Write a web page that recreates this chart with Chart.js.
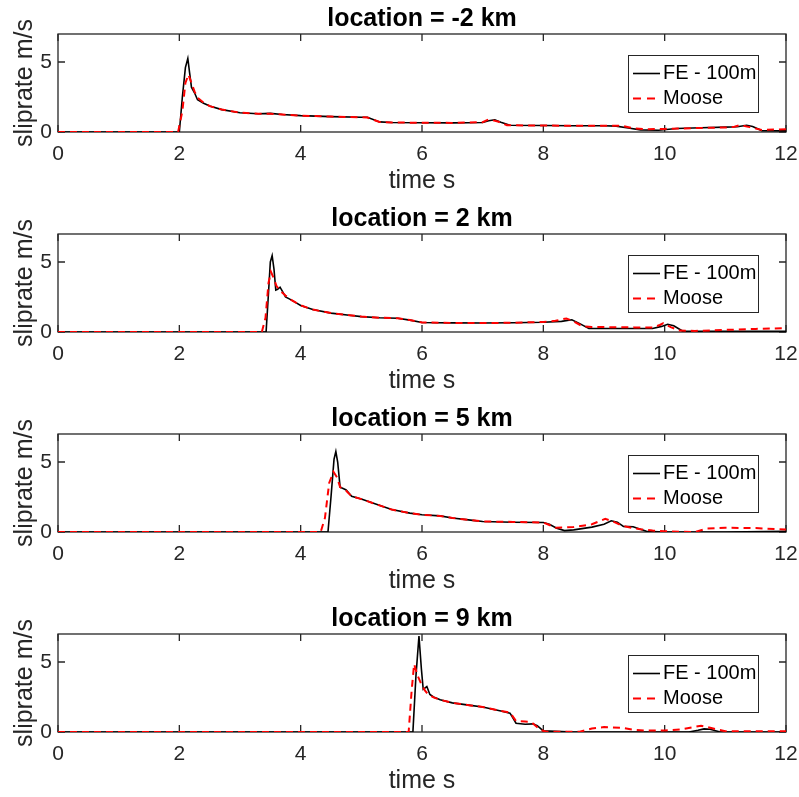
<!DOCTYPE html>
<html>
<head>
<meta charset="utf-8">
<script src="https://cdn.jsdelivr.net/npm/chart.js@4/dist/chart.umd.min.js"></script>
<style>
  html, body { margin: 0; padding: 0; background: #ffffff; }
  .panel { position: absolute; left: 0; width: 799px; height: 200px; }
  canvas { display: block; }
</style>
</head>
<body>
<div class="panel" style="top:0px"><canvas id="c0" width="799" height="200"></canvas></div>
<div class="panel" style="top:200px"><canvas id="c1" width="799" height="200"></canvas></div>
<div class="panel" style="top:400px"><canvas id="c2" width="799" height="200"></canvas></div>
<div class="panel" style="top:600px"><canvas id="c3" width="799" height="200"></canvas></div>
<script>
// ---------------- DATA ----------------
const panelTitles = ["location = -2 km", "location = 2 km", "location = 5 km", "location = 9 km"];
const seriesNames = ["FE - 100m", "Moose"];
const xTickValues = [0, 2, 4, 6, 8, 10, 12];
const yTickValues = [0, 5];
const xAxisTitle = "time s";
const yAxisTitle = "sliprate m/s";

// location = -2 km
const feM2Time  = [0, 2.0, 2.05, 2.1, 2.14, 2.17, 2.2, 2.25, 2.3, 2.4, 2.5, 2.7, 3.0, 3.3, 3.5, 3.7, 4.0, 4.5, 5.0, 5.1, 5.3, 5.5, 6.0, 6.5, 7.0, 7.1, 7.2, 7.3, 7.45, 8.0, 8.5, 9.0, 9.2, 9.4, 9.6, 9.9, 10.2, 10.6, 11.0, 11.2, 11.35, 11.45, 11.6, 12];
const feM2Rate  = [0, 0, 2.5, 4.6, 5.25, 4.2, 3.2, 2.8, 2.3, 2.05, 1.85, 1.6, 1.38, 1.3, 1.33, 1.25, 1.17, 1.1, 1.05, 1.05, 0.72, 0.68, 0.66, 0.65, 0.68, 0.8, 0.87, 0.7, 0.48, 0.46, 0.45, 0.45, 0.42, 0.28, 0.15, 0.12, 0.25, 0.3, 0.35, 0.38, 0.48, 0.4, 0.1, 0.08];
const mooseM2Time = [0, 1.98, 2.05, 2.1, 2.15, 2.2, 2.25, 2.3, 2.4, 2.5, 2.7, 3.0, 3.3, 3.5, 3.7, 4.0, 4.5, 5.0, 5.1, 5.3, 5.5, 6.0, 6.5, 7.0, 7.1, 7.25, 7.4, 8.0, 8.5, 9.0, 9.3, 9.5, 9.7, 10.0, 10.5, 11.0, 11.15, 11.25, 11.4, 11.6, 12];
const mooseM2Rate = [0, 0, 1.5, 3.5, 4.1, 3.5, 2.9, 2.45, 2.1, 1.85, 1.6, 1.38, 1.3, 1.3, 1.25, 1.17, 1.1, 1.05, 1.03, 0.72, 0.68, 0.66, 0.65, 0.7, 0.9, 0.75, 0.48, 0.46, 0.45, 0.45, 0.44, 0.25, 0.2, 0.22, 0.28, 0.32, 0.38, 0.5, 0.35, 0.15, 0.2];

// location = 2 km
const fe2Time  = [0, 3.43, 3.47, 3.5, 3.53, 3.56, 3.59, 3.62, 3.66, 3.7, 3.75, 3.82, 3.9, 4.0, 4.2, 4.5, 4.8, 5.0, 5.3, 5.6, 5.8, 6.0, 6.5, 7.0, 7.5, 8.0, 8.3, 8.47, 8.6, 8.75, 9.0, 9.5, 9.8, 9.95, 10.05, 10.15, 10.3, 11.0, 12];
const fe2Rate  = [0, 0, 2.8, 5.0, 5.45, 4.5, 3.0, 3.05, 3.2, 2.9, 2.5, 2.35, 2.15, 1.9, 1.6, 1.35, 1.2, 1.1, 1.02, 0.98, 0.85, 0.68, 0.65, 0.64, 0.66, 0.7, 0.76, 0.87, 0.6, 0.25, 0.25, 0.25, 0.25, 0.4, 0.55, 0.45, 0.05, 0.05, 0.05];
const moose2Time = [0, 3.36, 3.42, 3.47, 3.51, 3.56, 3.6, 3.65, 3.75, 3.82, 3.9, 4.0, 4.2, 4.5, 4.8, 5.0, 5.3, 5.6, 5.8, 6.0, 6.5, 7.0, 7.5, 8.0, 8.2, 8.38, 8.5, 8.65, 8.8, 9.0, 9.5, 9.8, 9.92, 9.98, 10.1, 10.25, 10.5, 11.0, 11.5, 12];
const moose2Rate = [0, 0, 1.0, 3.5, 4.3, 3.8, 3.3, 3.0, 2.6, 2.35, 2.15, 1.9, 1.6, 1.35, 1.2, 1.1, 1.02, 0.98, 0.85, 0.68, 0.65, 0.64, 0.66, 0.72, 0.8, 0.97, 0.75, 0.4, 0.35, 0.35, 0.33, 0.32, 0.5, 0.63, 0.35, 0.1, 0.08, 0.15, 0.22, 0.28];

// location = 5 km
const fe5Time  = [0, 4.45, 4.5, 4.55, 4.58, 4.61, 4.65, 4.7, 4.75, 4.84, 5.0, 5.2, 5.5, 5.8, 6.0, 6.3, 6.5, 6.8, 7.0, 7.5, 8.0, 8.1, 8.22, 8.35, 8.5, 8.8, 9.0, 9.12, 9.22, 9.32, 9.48, 9.6, 9.7, 10.0, 11.0, 12];
const fe5Rate  = [0, 0, 2.5, 5.2, 5.75, 5.0, 3.2, 3.1, 3.0, 2.55, 2.35, 2.05, 1.6, 1.35, 1.23, 1.15, 1.0, 0.85, 0.75, 0.7, 0.68, 0.55, 0.27, 0.1, 0.15, 0.35, 0.55, 0.8, 0.7, 0.4, 0.38, 0.2, 0.05, 0, 0, 0.05];
const moose5Time = [0, 4.33, 4.4, 4.47, 4.54, 4.6, 4.65, 4.75, 4.84, 5.0, 5.2, 5.5, 5.8, 6.0, 6.3, 6.5, 6.8, 7.0, 7.5, 8.0, 8.1, 8.2, 8.5, 8.8, 9.02, 9.15, 9.3, 9.45, 9.6, 9.8, 10.0, 10.5, 10.7, 11.0, 11.5, 12];
const moose5Rate = [0, 0, 1.0, 3.5, 4.3, 3.9, 3.2, 2.95, 2.55, 2.35, 2.05, 1.6, 1.35, 1.23, 1.15, 1.0, 0.85, 0.75, 0.72, 0.68, 0.5, 0.3, 0.35, 0.55, 0.94, 0.75, 0.45, 0.3, 0.2, 0.1, 0.05, 0.0, 0.25, 0.3, 0.28, 0.18];

// location = 9 km
const fe9Time  = [0, 5.85, 5.9, 5.95, 5.99, 6.02, 6.08, 6.13, 6.19, 6.3, 6.5, 6.8, 7.0, 7.3, 7.45, 7.5, 7.55, 7.7, 7.83, 7.9, 8.0, 8.5, 10.4, 10.55, 10.65, 10.75, 10.9, 12];
const fe9Rate  = [0, 0, 4.0, 6.85, 4.5, 3.05, 3.25, 2.68, 2.5, 2.3, 2.08, 1.9, 1.79, 1.5, 1.35, 1.0, 0.63, 0.55, 0.58, 0.45, 0.08, 0, 0, 0.12, 0.22, 0.2, 0.02, 0];
const moose9Time = [0, 5.78, 5.83, 5.87, 5.93, 5.99, 6.05, 6.1, 6.2, 6.3, 6.5, 6.8, 7.0, 7.3, 7.45, 7.55, 7.7, 7.8, 7.95, 8.05, 8.6, 8.8, 9.0, 9.3, 9.5, 9.7, 10.0, 10.3, 10.6, 10.8, 11.0, 12];
const moose9Rate = [0, 0, 3.0, 4.85, 4.0, 3.4, 2.95, 2.7, 2.45, 2.3, 2.08, 1.9, 1.79, 1.5, 1.4, 0.78, 0.75, 0.72, 0.15, 0.02, 0.02, 0.25, 0.35, 0.3, 0.15, 0.1, 0.1, 0.2, 0.45, 0.25, 0.05, 0.05];

// ---------------- BUILD ----------------
const panels = [
  { fe: [feM2Time, feM2Rate], moose: [mooseM2Time, mooseM2Rate] },
  { fe: [fe2Time, fe2Rate],   moose: [moose2Time, moose2Rate] },
  { fe: [fe5Time, fe5Rate],   moose: [moose5Time, moose5Rate] },
  { fe: [fe9Time, fe9Rate],   moose: [moose9Time, moose9Rate] }
];

const FONT = "'Liberation Sans', Arial, Helvetica, sans-serif";
const AXIS_COLOR = '#262626';

function toPoints(t, v) { return t.map((x, i) => ({ x: x, y: v[i] })); }

const framePlugin = {
  id: 'matlabFrame',
  beforeDatasetsDraw(chart) {
    const { ctx, chartArea: a, scales: { x, y } } = chart;
    ctx.save();
    ctx.strokeStyle = AXIS_COLOR;
    ctx.lineWidth = 1.3;
    ctx.strokeRect(a.left, a.top, a.right - a.left, a.bottom - a.top);
    const L = 7;
    ctx.beginPath();
    x.ticks.forEach(tk => {
      const px = x.getPixelForValue(tk.value);
      ctx.moveTo(px, a.bottom); ctx.lineTo(px, a.bottom - L);
      ctx.moveTo(px, a.top); ctx.lineTo(px, a.top + L);
    });
    y.ticks.forEach(tk => {
      const py = y.getPixelForValue(tk.value);
      ctx.moveTo(a.left, py); ctx.lineTo(a.left + L, py);
      ctx.moveTo(a.right, py); ctx.lineTo(a.right - L, py);
    });
    ctx.stroke();
    ctx.restore();
  },
  afterDatasetsDraw(chart) {
    const { ctx, chartArea: a } = chart;
    const bw = 130, bh = 57;
    const bx = a.right - 28 - bw, by = a.top + 21;
    ctx.save();
    ctx.fillStyle = '#ffffff';
    ctx.fillRect(bx, by, bw, bh);
    ctx.strokeStyle = AXIS_COLOR;
    ctx.lineWidth = 1;
    ctx.strokeRect(bx + 0.5, by + 0.5, bw, bh);
    chart.data.datasets.forEach((ds, i) => {
      const ry = by + 18.5 + i * 25;
      const dashed = !!ds.borderDash;
      ctx.beginPath();
      ctx.strokeStyle = ds.borderColor;
      ctx.lineWidth = ds.borderWidth;
      ctx.setLineDash(dashed ? [8, 6] : []);
      ctx.moveTo(bx + 5, ry);
      ctx.lineTo(bx + (dashed ? 27 : 32), ry);
      ctx.stroke();
      ctx.setLineDash([]);
      ctx.fillStyle = '#000000';
      ctx.font = "20px " + FONT;
      ctx.textBaseline = 'middle';
      ctx.textAlign = 'left';
      ctx.fillText(ds.label, bx + 35, ry);
    });
    ctx.restore();
  }
};

panels.forEach((p, idx) => {
  const ctx = document.getElementById('c' + idx).getContext('2d');
  new Chart(ctx, {
    type: 'line',
    data: {
      datasets: [
        {
          label: seriesNames[0],
          data: toPoints(p.fe[0], p.fe[1]),
          borderColor: '#000000',
          borderWidth: 1.6,
          pointRadius: 0,
          tension: 0,
          fill: false,
          order: 2
        },
        {
          label: seriesNames[1],
          data: toPoints(p.moose[0], p.moose[1]),
          borderColor: '#ff0000',
          borderWidth: 2,
          borderDash: [7, 5],
          pointRadius: 0,
          tension: 0,
          fill: false,
          order: 1
        }
      ]
    },
    options: {
      responsive: false,
      animation: false,
      devicePixelRatio: 1,
      layout: { padding: { left: 0, right: 13, top: 0, bottom: 0 } },
      plugins: {
        legend: { display: false },
        tooltip: { enabled: false },
        title: {
          display: true,
          fullSize: false,
          text: panelTitles[idx],
          color: '#000000',
          font: { family: FONT, size: 25, weight: 'bold', lineHeight: 1.2 },
          padding: { top: 4, bottom: 0 }
        }
      },
      scales: {
        x: {
          type: 'linear',
          min: 0, max: 12,
          afterBuildTicks: s => { s.ticks = xTickValues.map(v => ({ value: v })); },
          afterFit: s => { s.height = 68; s.paddingLeft = 0; s.paddingRight = 0; },
          grid: { display: false, drawTicks: false },
          border: { display: false },
          ticks: { color: AXIS_COLOR, font: { family: FONT, size: 21 }, padding: 10, maxRotation: 0, autoSkip: false },
          title: {
            display: true, text: xAxisTitle, color: AXIS_COLOR,
            font: { family: FONT, size: 25, lineHeight: 1.2 },
            padding: { top: 0, bottom: 3.5 }
          }
        },
        y: {
          type: 'linear',
          min: 0, max: 7,
          afterBuildTicks: s => { s.ticks = yTickValues.map(v => ({ value: v })); },
          afterFit: s => { s.width = 58; s.paddingTop = 0; s.paddingBottom = 0; },
          grid: { display: false, drawTicks: false },
          border: { display: false },
          ticks: { color: AXIS_COLOR, font: { family: FONT, size: 21 }, padding: 6 },
          title: {
            display: true, text: yAxisTitle, color: AXIS_COLOR,
            font: { family: FONT, size: 25, lineHeight: 1.2 },
            padding: { top: 10, bottom: 0 }
          }
        }
      }
    },
    plugins: [framePlugin]
  });
});
</script>
</body>
</html>
